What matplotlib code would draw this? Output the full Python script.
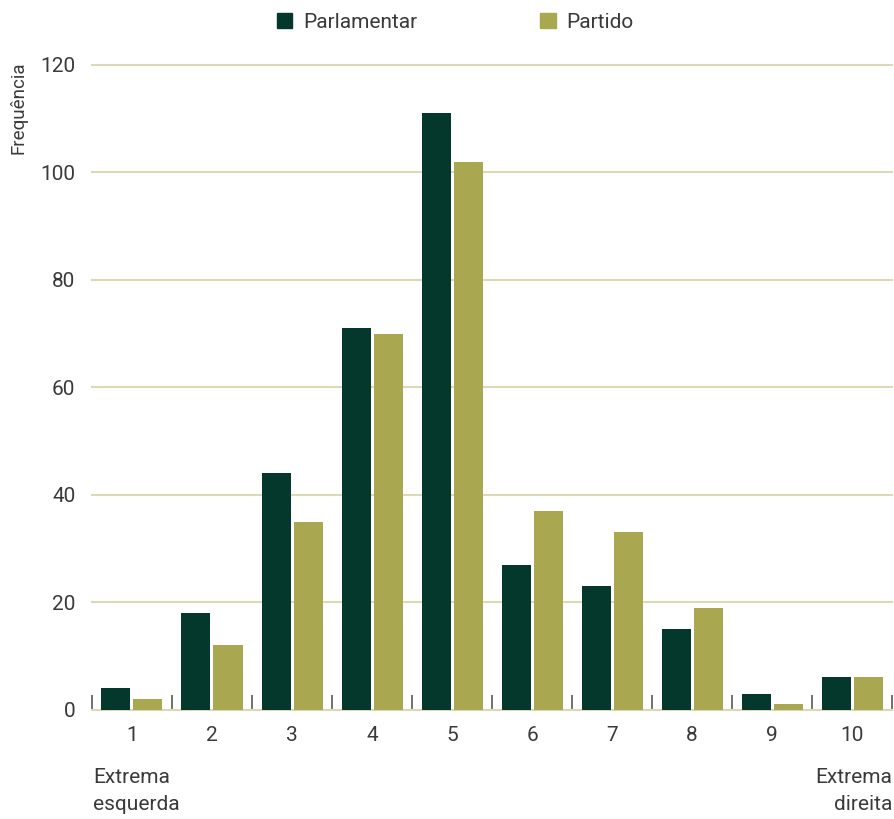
import numpy as np
import matplotlib.pyplot as plt
from matplotlib.patches import Patch
from matplotlib.transforms import blended_transform_factory

plt.rcParams['font.family'] = ['Roboto', 'DejaVu Sans']

categorias = ['1', '2', '3', '4', '5', '6', '7', '8', '9', '10']
parlamentar = [4, 18, 44, 71, 111, 27, 23, 15, 3, 6]
partido = [2, 12, 35, 70, 102, 37, 33, 19, 1, 6]
yticks = [0, 20, 40, 60, 80, 100, 120]

cor_parl = '#05382c'
cor_part = '#a9a750'
cor_grade = '#dcd9b5'
cor_texto = '#3a3a3a'
tam = 15

fig = plt.figure(figsize=(8.94, 8.19), dpi=100)
ax = fig.add_axes([0.1029, 0.1335, 0.8949, 0.7872])

x = np.arange(len(categorias))
largura = 0.3625
ax.bar(x - 0.2, parlamentar, largura, color=cor_parl, zorder=3)
ax.bar(x + 0.2, partido, largura, color=cor_part, zorder=3)

ax.set_xlim(-0.5, len(categorias) - 0.5)
ax.set_ylim(0, 120)
ax.set_yticks(yticks)
ax.set_yticklabels([str(v) for v in yticks], fontsize=tam, color=cor_texto)
ax.tick_params(axis='y', length=0, pad=12)
for v in yticks[1:]:
    ax.axhline(v, color=cor_grade, linewidth=1.5, zorder=0, clip_on=False)

ax.set_xticks(x)
ax.set_xticklabels(categorias, fontsize=tam, color=cor_texto)
ax.tick_params(axis='x', which='major', length=0, pad=12)
ax.set_xticks(np.arange(-0.5, len(categorias)), minor=True)
ax.tick_params(axis='x', which='minor', direction='in', length=11, width=1.3, color='#666666')

for lado in ['left', 'right', 'top']:
    ax.spines[lado].set_visible(False)
ax.spines['bottom'].set_color(cor_grade)
ax.spines['bottom'].set_linewidth(1.5)

trans = blended_transform_factory(ax.transData, fig.transFigure)
ax.text(-0.49, 1 - 768 / 819, 'Extrema\nesquerda', transform=trans, ha='left', va='top',
        fontsize=tam, color=cor_texto, linespacing=1.5)
ax.text(9.5, 1 - 768 / 819, 'Extrema\ndireita', transform=trans, ha='right', va='top',
        fontsize=tam, color=cor_texto, linespacing=1.5)

fig.text(0.021, 1 - 61 / 819, 'Frequência', rotation=90, ha='center', va='top',
         fontsize=13.5, color=cor_texto)

handles = [Patch(color=cor_parl, label='Parlamentar'), Patch(color=cor_part, label='Partido')]
fig.legend(handles=handles, loc='center', bbox_to_anchor=(455 / 894, 1 - 22 / 819), ncol=2,
           frameon=False, fontsize=tam, handlelength=0.75, handleheight=0.75,
           handletextpad=0.5, columnspacing=5.9, labelcolor=cor_texto)

fig.savefig('out.png', dpi=100)
